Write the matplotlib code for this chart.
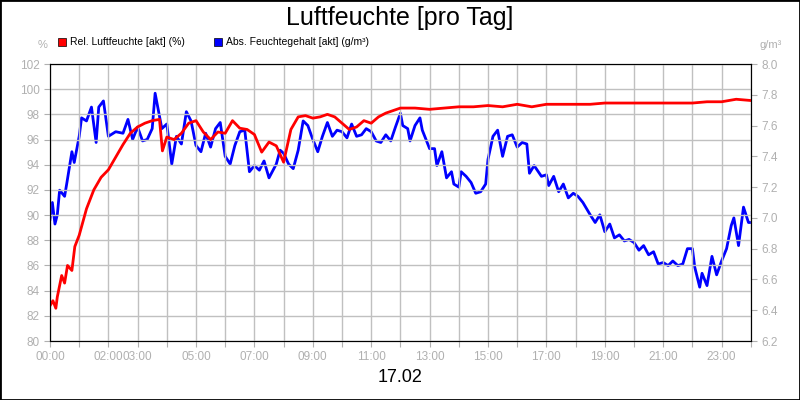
import matplotlib.pyplot as plt
from matplotlib.patches import Rectangle

plt.rcParams['font.family'] = ['Liberation Sans', 'DejaVu Sans']

# Rel. Luftfeuchte (%)
red_t = [0, 0.1, 0.2, 0.25, 0.4, 0.5, 0.6, 0.75, 0.85, 1.0, 1.25, 1.5, 1.75, 2.0, 2.25, 2.5,
         2.75, 3.0, 3.25, 3.5, 3.75, 3.85, 4.0, 4.25, 4.5, 4.75, 5.0, 5.25, 5.5, 5.75, 6.0,
         6.25, 6.5, 6.75, 7.0, 7.25, 7.5, 7.75, 8.0, 8.25, 8.5, 8.75, 9.0, 9.25, 9.5, 9.75,
         10.0, 10.25, 10.5, 10.75, 11.0, 11.25, 11.5, 11.75, 12.0, 12.5, 13.0, 13.5, 14.0,
         14.5, 15.0, 15.5, 16.0, 16.5, 17.0, 17.5, 18.0, 18.5, 19.0, 19.5, 20.0, 20.5, 21.0,
         21.5, 22.0, 22.5, 23.0, 23.5, 24.0]
red_v = [82.8, 83.2, 82.6, 83.5, 85.2, 84.6, 86.0, 85.6, 87.5, 88.4, 90.5, 92.0, 93.0, 93.6,
         94.6, 95.6, 96.5, 97.0, 97.3, 97.5, 97.6, 95.1, 96.2, 96.0, 96.5, 97.3, 97.5, 96.6,
         96.0, 96.6, 96.5, 97.5, 96.9, 96.8, 96.4, 95.0, 95.8, 95.5, 94.2, 96.8, 97.8, 97.9,
         97.7, 97.8, 98.0, 97.8, 97.3, 96.8, 97.0, 97.5, 97.3, 97.8, 98.1, 98.3, 98.5, 98.5,
         98.4, 98.5, 98.6, 98.6, 98.7, 98.6, 98.8, 98.6, 98.8, 98.8, 98.8, 98.8, 98.9, 98.9,
         98.9, 98.9, 98.9, 98.9, 98.9, 99.0, 99.0, 99.2, 99.1]

# Abs. Feuchtegehalt (g/m³)
blue_t = [0, 0.08, 0.17, 0.25, 0.33, 0.5, 0.58, 0.75, 0.83, 1.0, 1.08, 1.25, 1.42, 1.58,
          1.67, 1.83, 2.0, 2.25, 2.5, 2.67, 2.83, 3.0, 3.17, 3.33, 3.5, 3.6, 3.83, 4.0, 4.17,
          4.33, 4.5, 4.67, 4.83, 5.0, 5.17, 5.33, 5.5, 5.67, 5.83, 6.0, 6.17, 6.33, 6.5, 6.67,
          6.83, 7.0, 7.17, 7.33, 7.5, 7.75, 7.88, 8.0, 8.17, 8.33, 8.5, 8.67, 8.83, 9.0, 9.17,
          9.33, 9.5, 9.67, 9.83, 10.0, 10.17, 10.33, 10.5, 10.67, 10.83, 11.0, 11.17, 11.33,
          11.5, 11.67, 11.83, 12.0, 12.08, 12.25, 12.33, 12.5, 12.67, 12.75, 13.0, 13.17,
          13.25, 13.42, 13.58, 13.75, 13.83, 14.0, 14.08, 14.25, 14.42, 14.58, 14.75, 14.92,
          15.0, 15.17, 15.33, 15.5, 15.67, 15.83, 16.0, 16.17, 16.33, 16.42, 16.58, 16.83,
          17.0, 17.08, 17.25, 17.42, 17.58, 17.75, 17.92, 18.08, 18.25, 18.5, 18.67, 18.83,
          19.0, 19.17, 19.33, 19.5, 19.67, 19.83, 20.0, 20.17, 20.33, 20.5, 20.67, 20.83,
          21.0, 21.17, 21.33, 21.5, 21.67, 21.83, 22.0, 22.08, 22.25, 22.33, 22.5, 22.67,
          22.83, 23.0, 23.17, 23.33, 23.42, 23.58, 23.75, 23.92, 24.0]
blue_v = [6.99, 7.10, 6.96, 7.02, 7.18, 7.14, 7.23, 7.43, 7.36, 7.53, 7.65, 7.63, 7.72, 7.49,
          7.72, 7.76, 7.53, 7.56, 7.55, 7.64, 7.51, 7.59, 7.50, 7.51, 7.58, 7.81, 7.58, 7.61,
          7.35, 7.53, 7.48, 7.69, 7.63, 7.47, 7.43, 7.55, 7.46, 7.58, 7.62, 7.40, 7.35, 7.47,
          7.56, 7.57, 7.30, 7.34, 7.31, 7.37, 7.26, 7.35, 7.44, 7.42, 7.35, 7.32, 7.44, 7.63,
          7.60, 7.51, 7.43, 7.53, 7.62, 7.53, 7.57, 7.56, 7.52, 7.61, 7.53, 7.54, 7.58, 7.56,
          7.50, 7.49, 7.54, 7.50, 7.59, 7.68, 7.60, 7.58, 7.50, 7.60, 7.65, 7.57, 7.45, 7.45,
          7.34, 7.43, 7.26, 7.30, 7.22, 7.20, 7.30, 7.27, 7.23, 7.16, 7.17, 7.22, 7.38, 7.53,
          7.57, 7.40, 7.53, 7.54, 7.46, 7.49, 7.48, 7.29, 7.34, 7.27, 7.28, 7.21, 7.27, 7.17,
          7.22, 7.13, 7.16, 7.14, 7.10, 7.02, 6.97, 7.02, 6.91, 6.96, 6.87, 6.89, 6.85, 6.86,
          6.84, 6.79, 6.82, 6.76, 6.78, 6.70, 6.71, 6.69, 6.72, 6.69, 6.70, 6.80, 6.80, 6.68,
          6.55, 6.64, 6.56, 6.75, 6.63, 6.72, 6.80, 6.95, 7.00, 6.82, 7.07, 6.97, 6.97]

hour_ticks = list(range(25))
hour_labels = {0: "00:00", 2: "02:00", 3: "03:00", 5: "05:00", 7: "07:00", 9: "09:00",
               11: "11:00", 13: "13:00", 15: "15:00", 17: "17:00", 19: "19:00",
               21: "21:00", 23: "23:00"}
left_ticks = list(range(80, 103, 2))
right_ticks = [6.2, 6.4, 6.6, 6.8, 7.0, 7.2, 7.4, 7.6, 7.8, 8.0]

grey = "#b0b0b0"
fig = plt.figure(figsize=(8, 4), dpi=100)
fig.patches.append(Rectangle((0, 0), 1, 1, transform=fig.transFigure, fill=False,
                             edgecolor="black", linewidth=2))
ax = fig.add_axes([0.0625, 0.1475, 0.876, 0.6925])
ax2 = ax.twinx()

ax.set_xlim(0, 24)
ax.set_ylim(80, 102)
ax2.set_ylim(6.2, 8.0)
ax.set_xticks(hour_ticks)
ax.set_xticklabels([hour_labels.get(h, "") for h in hour_ticks])
ax.set_yticks(left_ticks)
ax2.set_yticks(right_ticks)
ax2.set_yticklabels([f"{v:.1f}" for v in right_ticks])
ax.grid(True, color="#c0c0c0", linewidth=1)
for a in (ax, ax2):
    a.tick_params(labelsize=8.5, labelcolor=grey, color=grey, length=4)

ax2.plot(blue_t, blue_v, color="#0000ff", linewidth=2)
ax.plot(red_t, red_v, color="#ff0000", linewidth=2)
ax.set_zorder(ax2.get_zorder() + 1)
ax.patch.set_visible(False)

fig.text(0.5, 0.955, "Luftfeuchte [pro Tag]", ha="center", va="center", fontsize=18)
fig.text(0.5, 0.055, "17.02", ha="center", va="center", fontsize=13)
fig.text(0.053, 0.88, "%", ha="center", fontsize=8, color=grey)
fig.text(0.963, 0.88, "g/m³", ha="center", fontsize=8, color=grey)
fig.patches.append(Rectangle((0.073, 0.885), 0.01, 0.02, transform=fig.transFigure,
                             facecolor="#ff0000", edgecolor="black", linewidth=0.5))
fig.text(0.087, 0.895, "Rel. Luftfeuchte [akt] (%)", va="center", fontsize=7.5)
fig.patches.append(Rectangle((0.268, 0.885), 0.01, 0.02, transform=fig.transFigure,
                             facecolor="#0000ff", edgecolor="black", linewidth=0.5))
fig.text(0.282, 0.895, "Abs. Feuchtegehalt [akt] (g/m³)", va="center", fontsize=7.5)

fig.savefig("out.png")
